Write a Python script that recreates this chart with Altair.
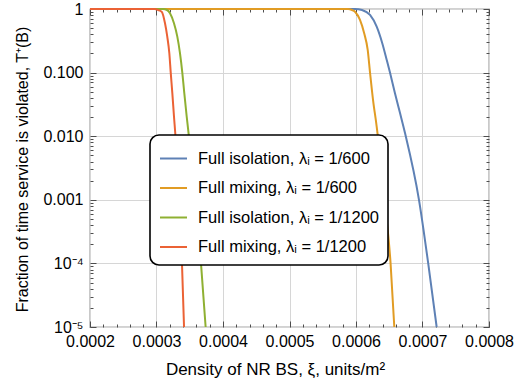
import altair as alt
import pandas as pd

# ---- data ----
series_names = [
    "Full isolation, λᵢ = 1/600",
    "Full mixing, λᵢ = 1/600",
    "Full isolation, λᵢ = 1/1200",
    "Full mixing, λᵢ = 1/1200",
]
series_colors = ["#5E81B5", "#E19C24", "#8FB032", "#EB6235"]

iso600_x = [0.0002, 0.0005985, 0.000609, 0.0006211, 0.0006311, 0.0006395, 0.0006462,
            0.0006511, 0.0006586, 0.0006662, 0.0006737, 0.0006947, 0.0007086, 0.0007213]
iso600_y = [1, 1, 0.964, 0.805, 0.527, 0.290, 0.158,
            0.1, 0.0475, 0.0231, 0.0112, 0.001, 0.0001, 0.00001]

mix600_x = [0.0002, 0.000588, 0.000594, 0.0005985, 0.000606, 0.0006123, 0.0006176,
            0.0006211, 0.0006256, 0.0006311, 0.0006429, 0.000652, 0.0006576]
mix600_y = [1, 1, 0.964, 0.907, 0.672, 0.415, 0.227,
            0.1, 0.0373, 0.0142, 0.001, 0.0001, 0.00001]

iso1200_x = [0.0002, 0.0003098, 0.0003158, 0.0003203, 0.0003263, 0.0003313, 0.0003353,
             0.0003388, 0.0003418, 0.0003454, 0.0003493, 0.0003577, 0.0003669, 0.0003739]
iso1200_y = [1, 1, 0.964, 0.856, 0.596, 0.367, 0.2017,
             0.1, 0.0475, 0.0204, 0.00878, 0.001, 0.0001, 0.00001]

mix1200_x = [0.0002, 0.0002977, 0.0003023, 0.0003078, 0.0003128, 0.0003162, 0.0003193,
             0.0003214, 0.0003238, 0.0003263, 0.0003289, 0.0003333, 0.0003383, 0.0003414]
mix1200_y = [1, 1, 0.964, 0.907, 0.596, 0.367, 0.2017,
             0.1, 0.0475, 0.0204, 0.00878, 0.001, 0.0001, 0.00001]

x_major = [0.0002, 0.0003, 0.0004, 0.0005, 0.0006, 0.0007, 0.0008]
x_minor = [round(0.0002 + i * 0.00002, 6) for i in range(31) if i % 5 != 0]
y_major = [1e-5, 1e-4, 1e-3, 1e-2, 1e-1, 1]
y_minor = [m * 10 ** e for e in range(-5, 0) for m in range(2, 10)]

rows = []
for name, xs, ys in zip(series_names,
                        [iso600_x, mix600_x, iso1200_x, mix1200_x],
                        [iso600_y, mix600_y, iso1200_y, mix1200_y]):
    for i, (xv, yv) in enumerate(zip(xs, ys)):
        rows.append({"series": name, "x": xv, "y": yv, "order": i})
df = pd.DataFrame(rows)

W, H = 399, 318
FONT = "Liberation Sans"
FRAME = "#4d4d4d"

xscale = alt.Scale(domain=[0.0002, 0.0008], nice=False, zero=False)
yscale = alt.Scale(type="log", domain=[1e-5, 1], nice=False)

main = alt.Chart(df).mark_line(strokeWidth=2, interpolate="monotone").encode(
    x=alt.X("x:Q", scale=xscale,
            axis=alt.Axis(orient="bottom", values=x_major, format=".4f", ticks=False,
                          domain=False, grid=True, gridColor="#d6d6d6", labelFont=FONT,
                          labelFontSize=16, labelColor="black", labelPadding=6,
                          labelFlush=False, labelOverlap=False,
                          title="Density of NR BS, ξ, units/m²", titleFont=FONT,
                          titleFontSize=17, titleFontWeight="normal", titleColor="black",
                          titleX=185, titleY=42, titleBaseline="middle", titleAlign="center")),
    y=alt.Y("y:Q", scale=yscale,
            axis=alt.Axis(orient="left", values=y_major, ticks=False, domain=False,
                          grid=True, gridColor="#d6d6d6", labelFont=FONT, labelFontSize=16,
                          labelColor="black", labelPadding=7, labelOverlap=False,
                          labelFlush=False,
                          labelExpr="datum.value > 0.5 ? '1' : datum.value > 0.0005 ? format(datum.value, '.3f') : datum.value > 0.00005 ? '10⁻⁴' : '10⁻⁵'",
                          title="Fraction of time service is violated, T⁺(B)", titleFont=FONT,
                          titleFontSize=16, titleFontWeight="normal", titleColor="black",
                          titleX=-68, titleY=160, titleAngle=-90, titleBaseline="middle",
                          titleAlign="center")),
    color=alt.Color("series:N",
                    scale=alt.Scale(domain=series_names, range=series_colors),
                    legend=alt.Legend(orient="none", legendX=60, legendY=126, title=None,
                                      symbolType="stroke", symbolStrokeWidth=2,
                                      symbolSize=729, labelFont=FONT, labelFontSize=16.5,
                                      labelColor="black", labelOffset=10, rowPadding=6.5,
                                      padding=9, cornerRadius=9, strokeColor="black",
                                      fillColor="white", labelLimit=400)),
    order="order:Q",
)


def x_ticks(orient, values, size):
    return alt.Chart(df).mark_point(opacity=0).encode(
        x=alt.X("x:Q", scale=xscale,
                axis=alt.Axis(orient=orient, offset=-H, values=values, tickSize=size,
                              tickColor=FRAME, labels=False, domain=False, grid=False,
                              title="")),
        y=alt.Y("y:Q", scale=yscale, axis=None),
    )


def y_ticks(orient, values, size):
    return alt.Chart(df).mark_point(opacity=0).encode(
        x=alt.X("x:Q", scale=xscale, axis=None),
        y=alt.Y("y:Q", scale=yscale,
                axis=alt.Axis(orient=orient, offset=-W, values=values, tickSize=size,
                              tickColor=FRAME, labels=False, domain=False, grid=False,
                              title="")),
    )


layers = [
    x_ticks("top", x_major, 6), x_ticks("top", x_minor, 3),
    x_ticks("bottom", x_major, 6), x_ticks("bottom", x_minor, 3),
    y_ticks("right", y_major, 6), y_ticks("right", y_minor, 3),
    y_ticks("left", y_major, 6), y_ticks("left", y_minor, 3),
    main,
]

chart = alt.layer(*layers).resolve_axis(x="independent", y="independent").properties(
    width=W, height=H,
    padding={"left": 90, "top": 9, "right": 39, "bottom": 60},
    autosize=alt.AutoSizeParams(type="none"),
    background="white",
).configure_view(stroke=FRAME, strokeWidth=1.2).configure_legend(strokeWidth=1.6)

chart.save("out.html", embed_options={"renderer": "svg", "actions": False})
